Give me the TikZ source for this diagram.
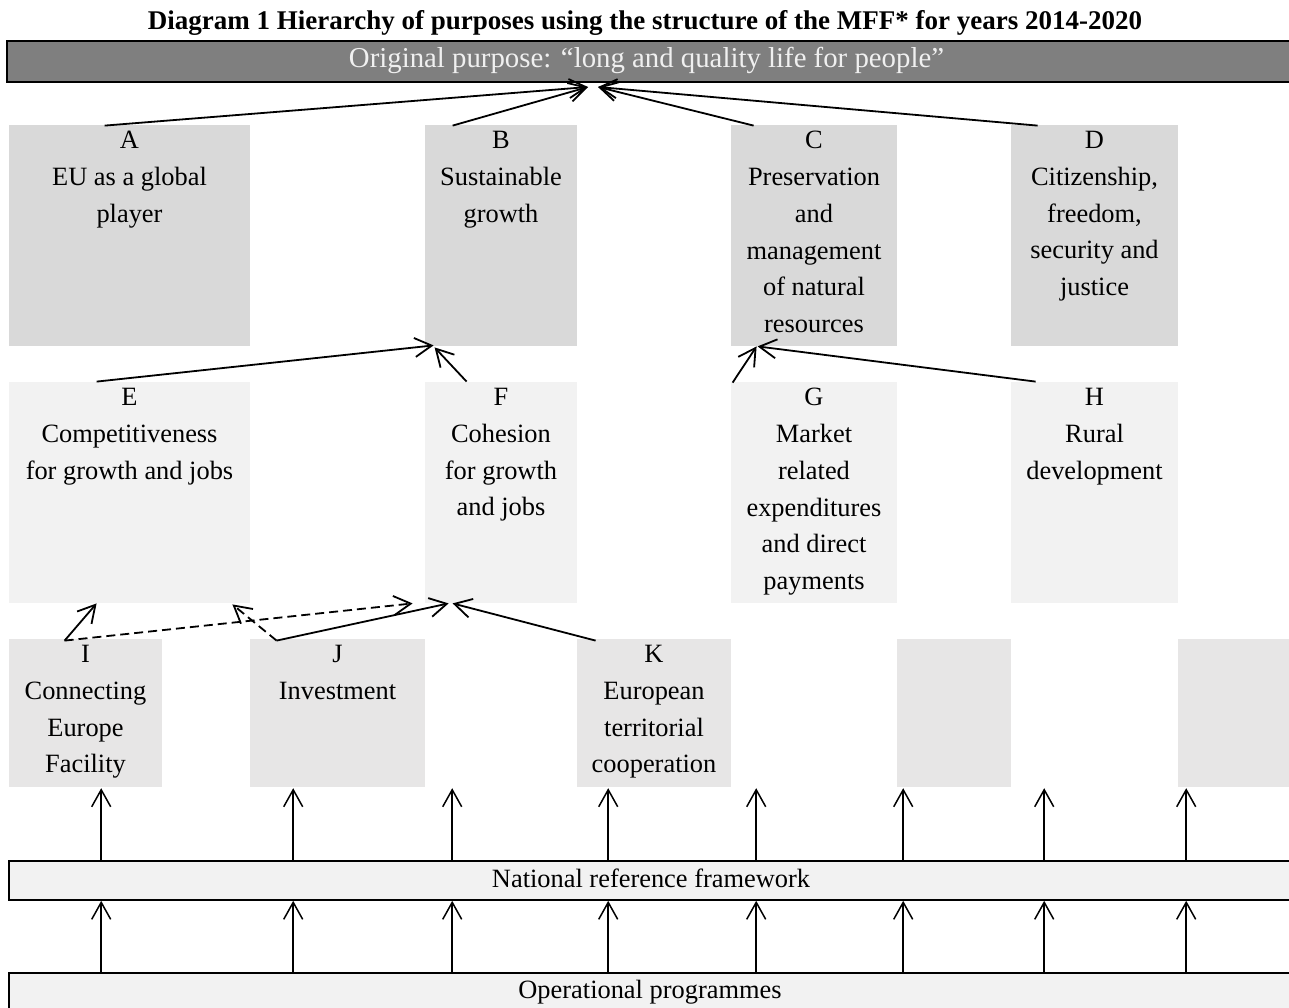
\documentclass[tikz,border=0pt]{standalone}
\usepackage{fontspec}
\setmainfont{Liberation Serif}
\usetikzlibrary{arrows.meta,calc,fit}
\definecolor{cTop}{HTML}{7F7F7F}
\definecolor{cA}{HTML}{D9D9D9}
\definecolor{cE}{HTML}{F2F2F2}
\definecolor{cI}{HTML}{E7E6E6}
\begin{document}
\begin{tikzpicture}[x=0.5pt,y=-0.5pt,
  txt/.style={font=\fontsize{13.2}{18.35}\selectfont, align=center, inner sep=0pt},
  rowA/.style={fill=cA, draw=none, inner sep=0pt},
  rowE/.style={fill=cE, draw=none, inner sep=0pt},
  rowI/.style={fill=cI, draw=none, inner sep=0pt},
  bar/.style={fill=cE, draw=black, line width=0.8pt, inner sep=0pt},
  arr/.style={-{Straight Barb[length=8.5pt,width=9.5pt]}, line width=0.9pt},
  varr/.style={-{Straight Barb[length=8.5pt,width=9.5pt]}, line width=0.75pt},
  dsh/.style={dash pattern=on 4.5pt off 2.5pt}
]
\useasboundingbox (0,0) rectangle (1289,1007);
\fill[white] (0,0) rectangle (1289,1007);

% title
\node[txt, font=\fontsize{13.5}{16}\selectfont\bfseries, anchor=base] (title) at (645,29)
  {Diagram 1 Hierarchy of purposes using the structure of the MFF* for years 2014-2020};

% top bar
\node[fit={(7,41)(1293,82)}, inner sep=0pt, fill=cTop, draw=black, line width=1pt] (top) {};
\node[txt, font=\fontsize{14.4}{16}\selectfont, text=white!94!black, anchor=base] (toptext) at (646.5,67)
  {Original purpose: “long and quality life for people”};

% row 1
\node[fit={(9,125)(250,346)}, rowA] (A) {};
\node[fit={(425,125)(577,346)}, rowA] (B) {};
\node[fit={(731,125)(897,346)}, rowA] (C) {};
\node[fit={(1011,125)(1178,346)}, rowA] (D) {};
\node[txt, anchor=north] (At) at ($(A.north)+(0,6.5)$) {A\\EU as a global\\player};
\node[txt, anchor=north] (Bt) at ($(B.north)+(0,6.5)$) {B\\Sustainable\\growth};
\node[txt, anchor=north] (Ct) at ($(C.north)+(0,6.5)$) {C\\Preservation\\and\\management\\of natural\\resources};
\node[txt, anchor=north] (Dt) at ($(D.north)+(0,6.5)$) {D\\Citizenship,\\freedom,\\security and\\justice};

% row 2
\node[fit={(9,382)(250,603)}, rowE] (E) {};
\node[fit={(425,382)(577,603)}, rowE] (F) {};
\node[fit={(731,382)(897,603)}, rowE] (G) {};
\node[fit={(1011,382)(1178,603)}, rowE] (H) {};
\node[txt, anchor=north] (Et) at ($(E.north)+(0,6.5)$) {E\\Competitiveness\\for growth and jobs};
\node[txt, anchor=north] (Ft) at ($(F.north)+(0,6.5)$) {F\\Cohesion\\for growth\\and jobs};
\node[txt, anchor=north] (Gt) at ($(G.north)+(0,6.5)$) {G\\Market\\related\\expenditures\\and direct\\payments};
\node[txt, anchor=north] (Ht) at ($(H.north)+(0,6.5)$) {H\\Rural\\development};

% row 3
\node[fit={(9,639)(162,787)}, rowI] (I) {};
\node[fit={(250,639)(425,787)}, rowI] (J) {};
\node[fit={(577,639)(731,787)}, rowI] (K) {};
\node[fit={(897,639)(1011,787)}, rowI] (e1) {};
\node[fit={(1178,639)(1293,787)}, rowI] (e2) {};
\node[txt, anchor=north] (It) at ($(I.north)+(0,6.5)$) {I\\Connecting\\Europe\\Facility};
\node[txt, anchor=north] (Jt) at ($(J.north)+(0,6.5)$) {J\\Investment};
\node[txt, anchor=north] (Kt) at ($(K.north)+(0,6.5)$) {K\\European\\territorial\\cooperation};

% bottom bars
\node[fit={(9,861)(1293,900)}, bar] (nrf) {};
\node[txt, anchor=base] (nrft) at (651,887) {National reference framework};
\node[fit={(9,973)(1293,1012)}, bar] (op) {};
\node[txt, anchor=base] (opt) at (650,998) {Operational programmes};

% arrows to the top purpose
\coordinate (t1) at ($(top.south)+(-62,4)$);
\coordinate (t2) at ($(top.south)+(-52,4)$);
\draw[arr] ($(A.north west)+(96,1)$) -- (t1);
\draw[arr] ($(B.north west)+(28,1)$) -- (t1);
\draw[arr] ($(C.north west)+(23,1)$) -- (t2);
\draw[arr] ($(D.north west)+(27,1)$) -- (t2);

% row 2 -> row 1
\draw[arr] ($(E.north west)+(88,0)$) -- ($(B.south west)+(9,-1)$);
\draw[arr] ($(F.north west)+(42,0)$) -- ($(B.south west)+(10,1)$);
\draw[arr] ($(G.north west)+(2,1)$) -- ($(C.south west)+(26,0)$);
\draw[arr] ($(H.north west)+(25,0)$) -- ($(C.south west)+(27,0)$);

% row 3 -> row 2
\draw[arr] ($(I.north west)+(56,2)$) -- ($(E.south west)+(88,0)$);
\draw[arr,dsh] ($(I.north west)+(56,2)$) -- ($(F.south west)+(-12,0)$);
\draw[arr,dsh] ($(J.north west)+(27,2)$) -- ($(E.south east)+(-18,1)$);
\draw[arr] ($(J.north west)+(27,2)$) -- ($(F.south west)+(24,0)$);
\draw[arr] ($(K.north west)+(19,2)$) -- ($(F.south west)+(28,0)$);

% vertical arrows
\foreach \x in {102,294,453,609,757,904,1045,1187} {
  \draw[varr] ($(nrf.north west)+(\x-9,0)$) -- ($(nrf.north west)+(\x-9,-72)$);
  \draw[varr] ($(op.north west)+(\x-9,0)$) -- ($(nrf.south west)+(\x-9,0)$);
}
\end{tikzpicture}
\end{document}
